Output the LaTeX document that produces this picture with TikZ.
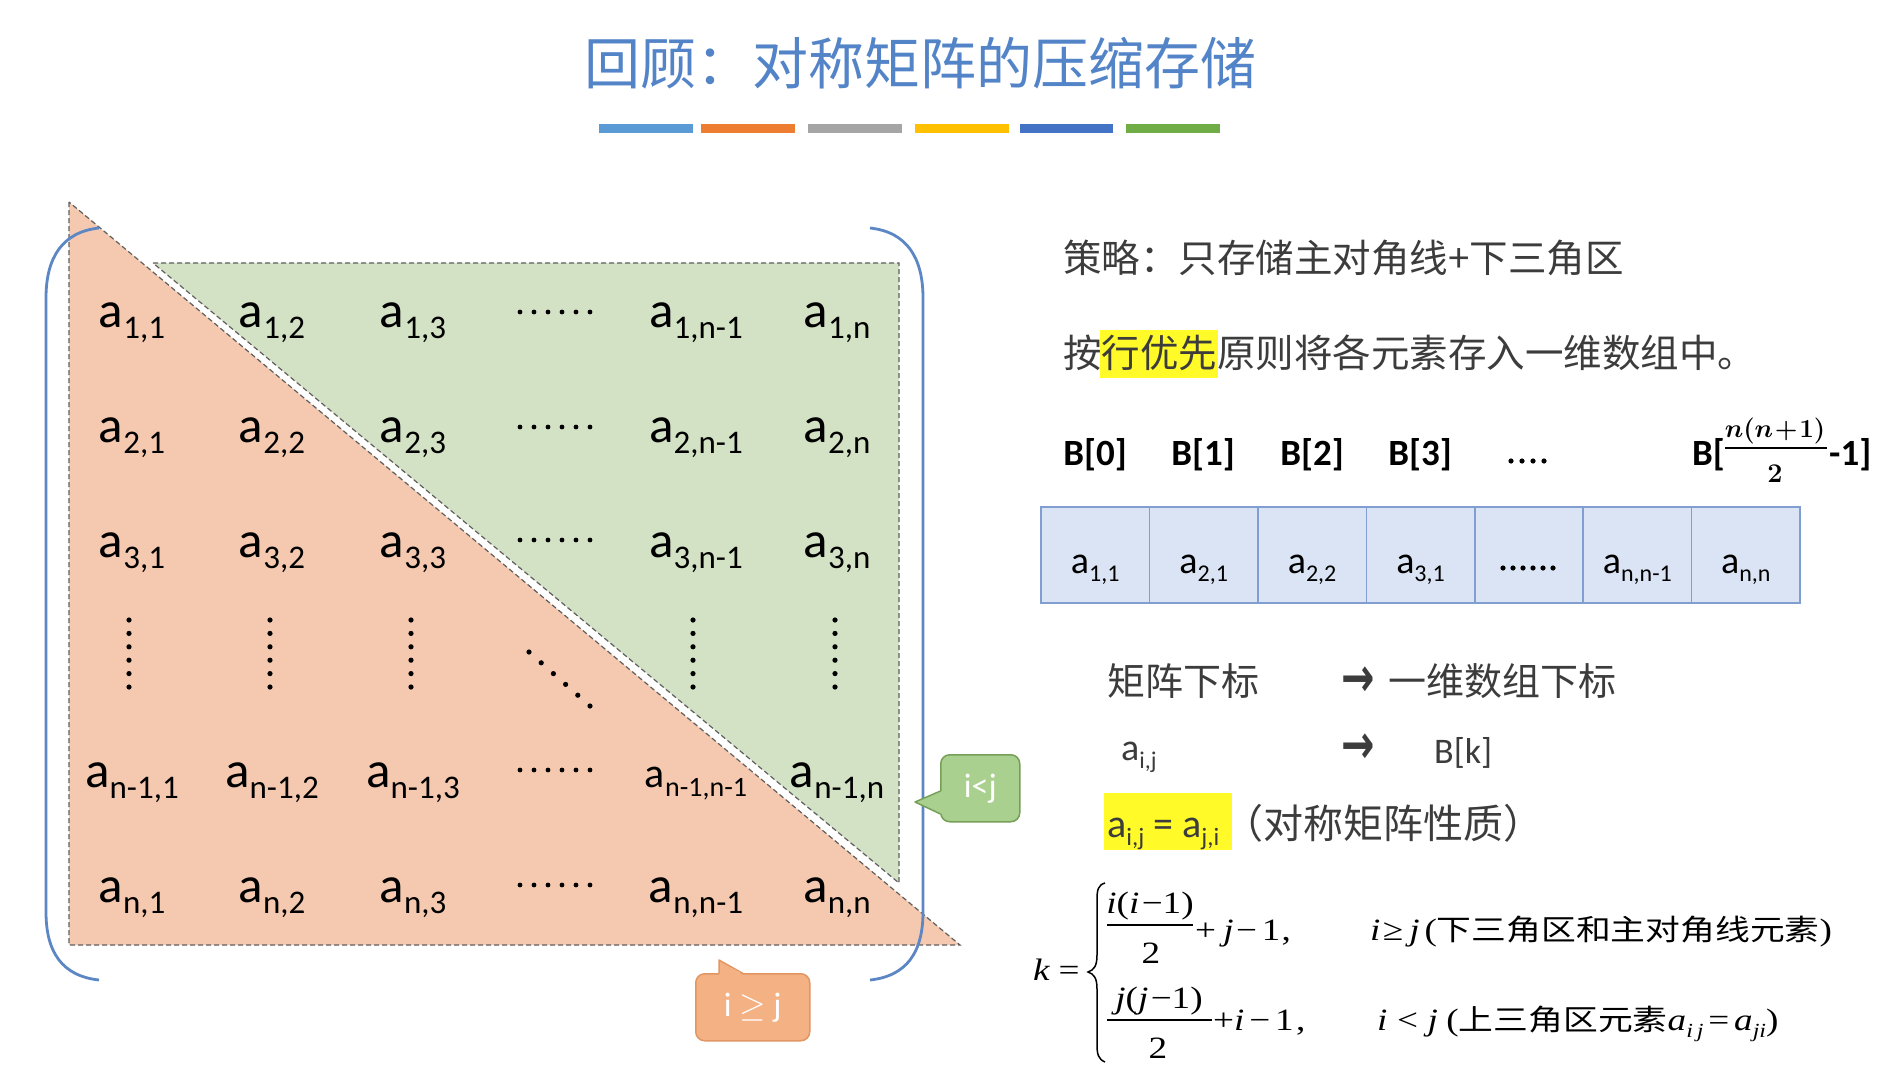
\RequirePackage{fix-cm}
\documentclass[tikz,border=0pt]{standalone}
\usepackage{amsmath}
\usepackage[no-math]{fontspec}
\usepackage{graphicx}
\setmainfont{Carlito}
\newfontfamily\cjk{Noto Sans CJK SC}
\newfontfamily\djv{DejaVu Sans}
\newfontfamily\tms{Liberation Serif}
\definecolor{titleblue}{RGB}{84,132,200}
\definecolor{orfill}{RGB}{245,201,176}
\definecolor{grfill}{RGB}{211,225,196}
\definecolor{dashc}{RGB}{95,95,95}
\definecolor{brk}{RGB}{92,135,196}
\definecolor{cellfill}{RGB}{219,228,244}
\definecolor{cellline}{RGB}{128,158,208}
\definecolor{txt}{RGB}{60,60,60}
\definecolor{hl}{RGB}{255,250,40}
\definecolor{cgfill}{RGB}{169,208,142}
\definecolor{cgline}{RGB}{118,160,88}
\definecolor{cofill}{RGB}{244,177,131}
\definecolor{coline}{RGB}{226,150,100}
\definecolor{barA}{RGB}{91,155,213}
\definecolor{barB}{RGB}{237,125,49}
\definecolor{barC}{RGB}{165,165,165}
\definecolor{barD}{RGB}{255,192,0}
\definecolor{barE}{RGB}{68,114,196}
\definecolor{barF}{RGB}{112,173,71}
\newcommand{\fs}[1]{\fontsize{#1}{#1}\selectfont}
\newcommand{\mel}[1]{\fs{51}a\raisebox{-11pt}{\fs{33}#1}}
\newcommand{\mels}[1]{\fs{42}a\raisebox{-9pt}{\fs{28}#1}}
\newcommand{\cel}[1]{\fs{38}a\raisebox{-8pt}{\fs{24}#1}}
\newcommand{\ti}[1]{\textit{#1}}
\newcommand{\fx}[1]{\scalebox{1.2}[1]{#1}}
\newcommand{\lbr}{[}
\newcommand{\rbr}{]}
\begin{document}
\begin{tikzpicture}[x=1pt,y=-1pt,
  lbl/.style={inner sep=0pt, anchor=base},
  lblw/.style={inner sep=0pt, anchor=base west},
  dsh/.style={draw=dashc, line width=1.2pt, dash pattern=on 5pt off 3pt},
  brkline/.style={draw=brk, line width=2.8pt},
  fbar/.style={line width=1.4pt},
  cellbox/.style={draw=cellline, fill=cellfill, line width=1.6pt, minimum width=108.43pt, minimum height=96pt, inner sep=0pt}]
\useasboundingbox (0,0) rectangle (1883,1079);
\fill[white] (0,0) rectangle (1883,1079);

% title
\node[lbl, text=titleblue] (title) at (920,84) {\cjk\fs{56}回顾：对称矩阵的压缩存储};
\foreach \a/\b/\c in {599/693/barA, 701/795/barB, 808/902/barC, 915/1009/barD, 1020/1113/barE, 1126/1220/barF}
  \fill[\c] (\a,124) rectangle (\b,133);

% matrix regions
\path[fill=orfill, dsh] (69,202) -- (69,945) -- (960,945) -- cycle;
\path[fill=grfill, dsh] (153,263) -- (899,263) -- (899,883) -- cycle;

% matrix entries
\foreach \ri/\r/\y in {1/1/327, 2/2/442, 3/3/557, 4/n-1/787, 5/n/902}{
  \foreach \ci/\c/\x in {1/1/132, 2/2/272, 3/3/413, 4/n-1/696, 5/n/837}{
    \ifnum\ri\ci=44
      \node[lbl] (m\ri\ci) at (\x,\y) {\mels{\r,\c}};
    \else
      \node[lbl] (m\ri\ci) at (\x,\y) {\mel{\r,\c}};
    \fi
  }
}
% horizontal dots
\foreach \y in {312,427,540,770,885}
  \foreach \k in {0,...,5}
    \fill ({520+14*\k},\y) circle[radius=2.4pt];
% vertical dots
\foreach \x in {129,270,411,693,835}
  \foreach \k in {0,...,5}
    \fill (\x,{620+13.4*\k}) circle[radius=2.6pt];
% diagonal dots
\foreach \k in {0,...,5}
  \fill ({529+12.2*\k},{652+10.8*\k}) circle[radius=2.6pt];

% brackets
\draw[brkline] (99,228) .. controls (62,232) and (46,258) .. (46,298) -- (46,912) .. controls (46,952) and (62,976) .. (99,980);
\draw[brkline] (870,228) .. controls (907,232) and (923,258) .. (923,298) -- (923,912) .. controls (923,952) and (907,976) .. (870,980);

% callouts
\node[draw=cgline, fill=cgfill, rounded corners=9pt, line width=1.5pt, minimum width=79pt, minimum height=67pt, inner sep=0pt, anchor=north west, text=white] (ilj) at (940,754) {\fs{34}i<j};
\fill[cgfill] (942,791) -- (915,802) -- (942,814) -- cycle;
\draw[cgline, line width=1.5pt, line join=round] (940.5,791) -- (915,802) -- (940.5,814);

\node[draw=coline, fill=cofill, rounded corners=9pt, line width=1.5pt, minimum width=114pt, minimum height=67pt, inner sep=0pt, anchor=north west, text=white] (igj) at (695,973) {\fs{34}i \ensuremath{\geq} j};
\fill[cofill] (719,975) -- (719,960) -- (743,975) -- cycle;
\draw[coline, line width=1.5pt, line join=round] (719,973.5) -- (719,960) -- (743,973.5);

% right side text
\node[lblw, text=txt] (strategy) at (1063,272) {\cjk\fs{38.5}策略：只存储主对角线+下三角区};
\fill[hl] (1100,330) rectangle (1218,378);
\node[lblw, text=txt] (rowfirst) at (1063,367) {\cjk\fs{38.5}按行优先原则将各元素存入一维数组中。};

% B labels
\foreach \x/\t [count=\i] in {1095/0, 1203/1, 1312/2, 1420/3}
  \node[lbl] (B\i) at (\x,465) {\fs{37}\bfseries B[\t]};
\foreach \k in {0,...,3}
  \fill ({1511+11*\k},461) circle[radius=2.6pt];
\node[lblw] (Bla) at (1692,465) {\fs{37}\bfseries B\lbr};
\node[lbl] (Bnum) at (1775,437) {\fs{26}{\boldmath$n(n\!+\!1)$}};
\draw[line width=1.8pt] (1725,448) -- (1827,448);
\node[lbl] (Bden) at (1775,482) {\fs{27}{\boldmath$2$}};
\node[lblw] (Blb) at (1829,465) {\fs{37}\bfseries -1\rbr};

% array
\foreach \i in {0,...,6}
  \node[cellbox] (cell\i) at ({1041+108.43*(\i+0.5)},555) {};
\node[lbl] (v0) at (cell0.center |- 0,573) {\cel{1,1}};
\node[lbl] (v1) at (cell1.center |- 0,573) {\cel{2,1}};
\node[lbl] (v2) at (cell2.center |- 0,573) {\cel{2,2}};
\node[lbl] (v3) at (cell3.center |- 0,573) {\cel{3,1}};
\node[lbl] (v5) at (cell5.center |- 0,573) {\cel{n,n-1}};
\node[lbl] (v6) at (cell6.center |- 0,573) {\cel{n,n}};
\foreach \k in {0,...,5}
  \fill ({1503+10*\k},568) circle[radius=2.6pt];

% index mapping
\node[lblw, text=txt] (mi) at (1107,695) {\cjk\fs{38}矩阵下标};
\node[inner sep=0pt, text=txt] (ar1) at (1358,682) {\scalebox{1.05}[1.45]{\djv\bfseries\fs{38}→}};
\node[lblw, text=txt] (ai) at (1388,695) {\cjk\fs{38}一维数组下标};
\node[lblw, text=txt] (aij) at (1121,760) {\fs{38}a\raisebox{-8pt}{\fs{24}i,j}};
\node[inner sep=0pt, text=txt] (ar2) at (1358,749) {\scalebox{1.05}[1.45]{\djv\bfseries\fs{38}→}};
\node[lblw, text=txt] (Bk) at (1434,763) {\fs{36}B[k]};
\fill[hl] (1104,793) rectangle (1232,850);
\node[lblw, text=txt] (sym) at (1107,837) {\fs{40}a\raisebox{-8pt}{\fs{25}i,j} = a\raisebox{-8pt}{\fs{25}j,i}};
\node[lblw, text=txt] (symnote) at (1223,838) {\cjk\fs{40}（对称矩阵性质）};

% formula
\node[lblw] (keq) at (1033,980) {\fx{\tms\fs{31}\ti{k}\hspace{7pt}=}};
\draw[line width=1.5pt] (1105,883) .. controls (1098,885) and (1097,890) .. (1097,900) -- (1097,955) .. controls (1097,966) and (1094,970) .. (1088,972) .. controls (1094,974) and (1097,978) .. (1097,989) -- (1097,1044) .. controls (1097,1054) and (1098,1059) .. (1105,1062);
\node[lbl] (num1) at (1150,913) {\fx{\tms\fs{31}\ti{i}(\ti{i}\hspace{2pt}−1)}};
\draw[fbar] (1107,925) -- (1193,925);
\node[lbl] (den1) at (1151,963) {\fx{\tms\fs{31}2}};
\node[lblw] (rest1) at (1195,940) {\fx{\tms\fs{31}+\hspace{6pt}\ti{j}\hspace{2pt}−\hspace{4pt}1\hspace{1pt},}};
\node[lblw] (cond1) at (1370,940) {\fx{\tms\fs{31}\ti{i}\hspace{2pt}≥\hspace{5pt}\ti{j}\hspace{4pt}({\cjk\fs{29}下三角区和主对角线元素})}};
\node[lbl] (num2) at (1159,1008) {\fx{\tms\fs{31}\ti{j}(\ti{j}\hspace{2pt}−1)}};
\draw[fbar] (1107,1020) -- (1212,1020);
\node[lbl] (den2) at (1158,1058) {\fx{\tms\fs{31}2}};
\node[lblw] (rest2) at (1213,1030) {\fx{\tms\fs{31}+\ti{i}\hspace{4pt}−\hspace{4pt}1\hspace{2pt},}};
\node[lblw] (cond2) at (1377,1030) {\fx{\tms\fs{31}\ti{i}\hspace{8pt}<\hspace{8pt}\ti{j}\hspace{7pt}({\cjk\fs{29}上三角区元素}\ti{a}\raisebox{-7pt}{\fs{20}\ti{i\,j}}\hspace{4pt}=\hspace{4pt}\ti{a}\raisebox{-7pt}{\fs{20}\ti{ji}})}};
\end{tikzpicture}
\end{document}
